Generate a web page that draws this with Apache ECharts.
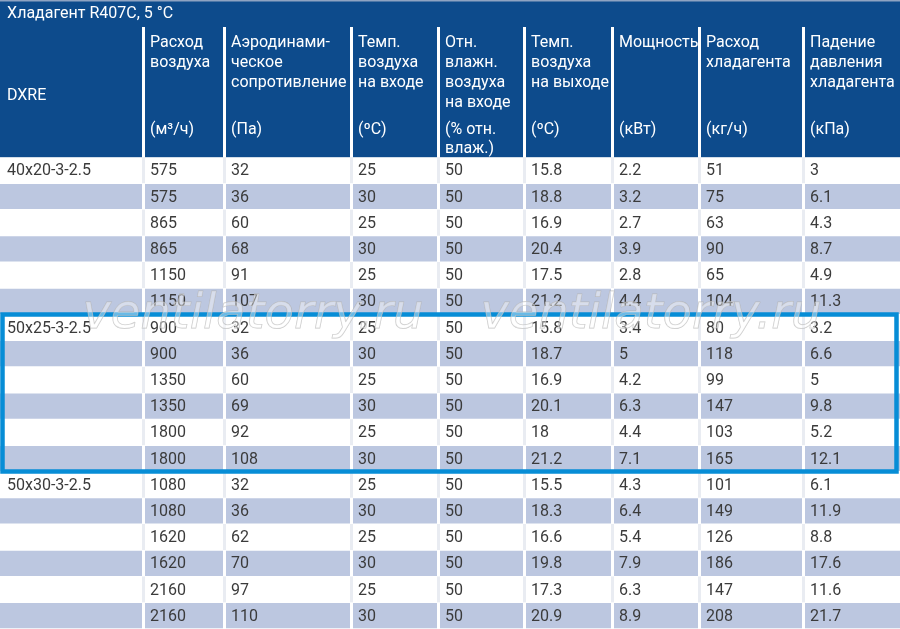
<!DOCTYPE html>
<html>
<head>
<meta charset="utf-8">
<script src="https://cdn.jsdelivr.net/npm/echarts@6/dist/echarts.min.js"></script>
<style>
html, body {margin: 0; padding: 0; background: #fff;}
#main {width: 900px; height: 629px;}
</style>
</head>
<body>
<div id="main"></div>
<script>
// Заголовок и шапка таблицы
var titleText = 'Хладагент R407C, 5 °C';
var headerLabels = ['DXRE', 'Расход\nвоздуха', 'Аэродинами-\nческое\nсопротивление', 'Темп.\nвоздуха\nна входе',
    'Отн.\nвлажн.\nвоздуха\nна входе', 'Темп.\nвоздуха\nна выходе', 'Мощность', 'Расход\nхладагента', 'Падение\nдавления\nхладагента'];
var headerUnits = ['', '(м³/ч)', '(Па)', '(ºC)', '(% отн.\nвлаж.)', '(ºC)', '(кВт)', '(кг/ч)', '(кПа)'];

// Данные по строкам
var models = ['40x20-3-2.5', '', '', '', '', '',
    '50x25-3-2.5', '', '', '', '', '',
    '50x30-3-2.5', '', '', '', '', ''];
var airFlow = [575, 575, 865, 865, 1150, 1150, 900, 900, 1350, 1350, 1800, 1800, 1080, 1080, 1620, 1620, 2160, 2160];
var resistance = [32, 36, 60, 68, 91, 107, 32, 36, 60, 69, 92, 108, 32, 36, 62, 70, 97, 110];
var tempIn = [25, 30, 25, 30, 25, 30, 25, 30, 25, 30, 25, 30, 25, 30, 25, 30, 25, 30];
var humidityIn = [50, 50, 50, 50, 50, 50, 50, 50, 50, 50, 50, 50, 50, 50, 50, 50, 50, 50];
var tempOut = ['15.8', '18.8', '16.9', '20.4', '17.5', '21.2', '15.8', '18.7', '16.9', '20.1', '18', '21.2',
    '15.5', '18.3', '16.6', '19.8', '17.3', '20.9'];
var power = ['2.2', '3.2', '2.7', '3.9', '2.8', '4.4', '3.4', '5', '4.2', '6.3', '4.4', '7.1',
    '4.3', '6.4', '5.4', '7.9', '6.3', '8.9'];
var refrigerantFlow = [51, 75, 63, 90, 65, 104, 80, 118, 99, 147, 103, 165, 101, 149, 126, 186, 147, 208];
var pressureDrop = ['3', '6.1', '4.3', '8.7', '4.9', '11.3', '3.2', '6.6', '5', '9.8', '5.2', '12.1',
    '6.1', '11.9', '8.8', '17.6', '11.6', '21.7'];
// выделенная модель (строки с .. по)
var highlightRows = [6, 11];

// разметка
var colEdges = [0, 142, 223, 350, 437, 523, 611, 698, 802, 900];
var gap = 3;
var headTop = 27;
var bodyTop = 157.2;
var rowH = 26.2;
var fontName = 'Roboto, "Noto Sans", sans-serif';

var columns = [models, airFlow, resistance, tempIn, humidityIn, tempOut, power, refrigerantFlow, pressureDrop];
var bodyData = [];
for (var r = 0; r < models.length; r++) {
    for (var c = 0; c < columns.length; c++) {
        bodyData.push([c, r, String(columns[c][r])]);
    }
}
var headData = [];
for (var i = 0; i < headerLabels.length; i++) {
    headData.push([i, headerLabels[i], headerUnits[i]]);
}

function renderHead(params, api) {
    var c = api.value(0);
    var p0 = api.coord([colEdges[c] + (c > 0 ? gap : 0), headTop]);
    var p1 = api.coord([colEdges[c + 1], bodyTop]);
    var label = headData[params.dataIndex][1];
    var unit = headData[params.dataIndex][2];
    var tx = p0[0] + (c > 0 ? 5 : 7);
    var children = [{
        type: 'rect',
        shape: {x: p0[0], y: p0[1], width: p1[0] - p0[0], height: p1[1] - p0[1]},
        style: {fill: '#0d4b8c'}
    }];
    if (c === 0) {
        children.push({
            type: 'text',
            style: {x: tx, y: api.coord([0, 96])[1], text: label, fill: '#fff',
                font: '16px ' + fontName, verticalAlign: 'middle'}
        });
    } else {
        children.push({
            type: 'text',
            style: {x: tx, y: api.coord([0, 33])[1], text: label, fill: '#fff',
                font: '16px ' + fontName, lineHeight: 20, verticalAlign: 'top'}
        });
        children.push({
            type: 'text',
            style: {x: tx, y: api.coord([0, 120])[1], text: unit, fill: '#fff',
                font: '16px ' + fontName, lineHeight: 19, verticalAlign: 'top'}
        });
    }
    return {type: 'group', children: children};
}

function renderCell(params, api) {
    var c = api.value(0);
    var r = api.value(1);
    var text = bodyData[params.dataIndex][2];
    var y0 = bodyTop + r * rowH;
    var p0 = api.coord([colEdges[c], y0]);
    var p1 = api.coord([colEdges[c + 1], y0 + rowH]);
    var shaded = r % 2 === 1;
    var children = [];
    var fx = p0[0];
    if (c > 0) {
        children.push({
            type: 'rect',
            shape: {x: p0[0], y: p0[1], width: gap, height: p1[1] - p0[1]},
            style: {fill: shaded ? '#ffffff' : '#e9ecf2'}
        });
        fx = p0[0] + gap;
    }
    children.push({
        type: 'rect',
        shape: {x: fx, y: p0[1] + 0.5, width: p1[0] - fx, height: p1[1] - p0[1] - 1},
        style: {fill: shaded ? '#bcc7e0' : '#ffffff'}
    });
    children.push({
        type: 'text',
        style: {x: fx + (c > 0 ? 5 : 7), y: (p0[1] + p1[1]) / 2 + 1, text: text, fill: '#3b3b3b',
            font: '16px ' + fontName, verticalAlign: 'middle'}
    });
    return {type: 'group', children: children};
}

function renderHighlight(params, api) {
    var p0 = api.coord([2.5, bodyTop + api.value(0) * rowH]);
    var p1 = api.coord([896.5, bodyTop + (api.value(1) + 1) * rowH]);
    return {
        type: 'rect',
        shape: {x: p0[0], y: p0[1], width: p1[0] - p0[0], height: p1[1] - p0[1]},
        style: {fill: 'none', stroke: '#078dd6', lineWidth: 4.5}
    };
}

var myChart = echarts.init(document.getElementById('main'));
var option = {
    backgroundColor: '#ffffff',
    animation: false,
    grid: {left: 0, right: 0, top: 0, bottom: 0},
    xAxis: {type: 'value', min: 0, max: 900, show: false},
    yAxis: {type: 'value', min: 0, max: 629, inverse: true, show: false},
    graphic: [
        {type: 'rect', shape: {x: 0, y: 0, width: 900, height: 27}, style: {fill: '#0d4b8c'}, z: 1},
        {type: 'rect', shape: {x: 0, y: 0, width: 900, height: 1.5}, style: {fill: '#8ea3c2'}, z: 1},
        {type: 'text', left: 7, top: 6, z: 1,
            style: {text: titleText, fill: '#fff', font: '16px ' + fontName}},
        {type: 'text', left: 82, top: 291, z: 100, silent: true,
            style: {text: 'ventilatorry.ru', font: 'italic 48px "DejaVu Sans"',
                fill: 'rgba(255,255,255,0.4)', stroke: 'rgba(175,175,175,0.7)', lineWidth: 0.9}},
        {type: 'text', left: 480, top: 291, z: 100, silent: true,
            style: {text: 'ventilatorry.ru', font: 'italic 48px "DejaVu Sans"',
                fill: 'rgba(255,255,255,0.4)', stroke: 'rgba(175,175,175,0.7)', lineWidth: 0.9}}
    ],
    series: [
        {type: 'custom', renderItem: renderHead, data: headData, z: 2, silent: true},
        {type: 'custom', renderItem: renderCell, data: bodyData, z: 2, silent: true},
        {type: 'custom', renderItem: renderHighlight, data: [highlightRows], z: 3, silent: true}
    ]
};
myChart.setOption(option);
</script>
</body>
</html>
